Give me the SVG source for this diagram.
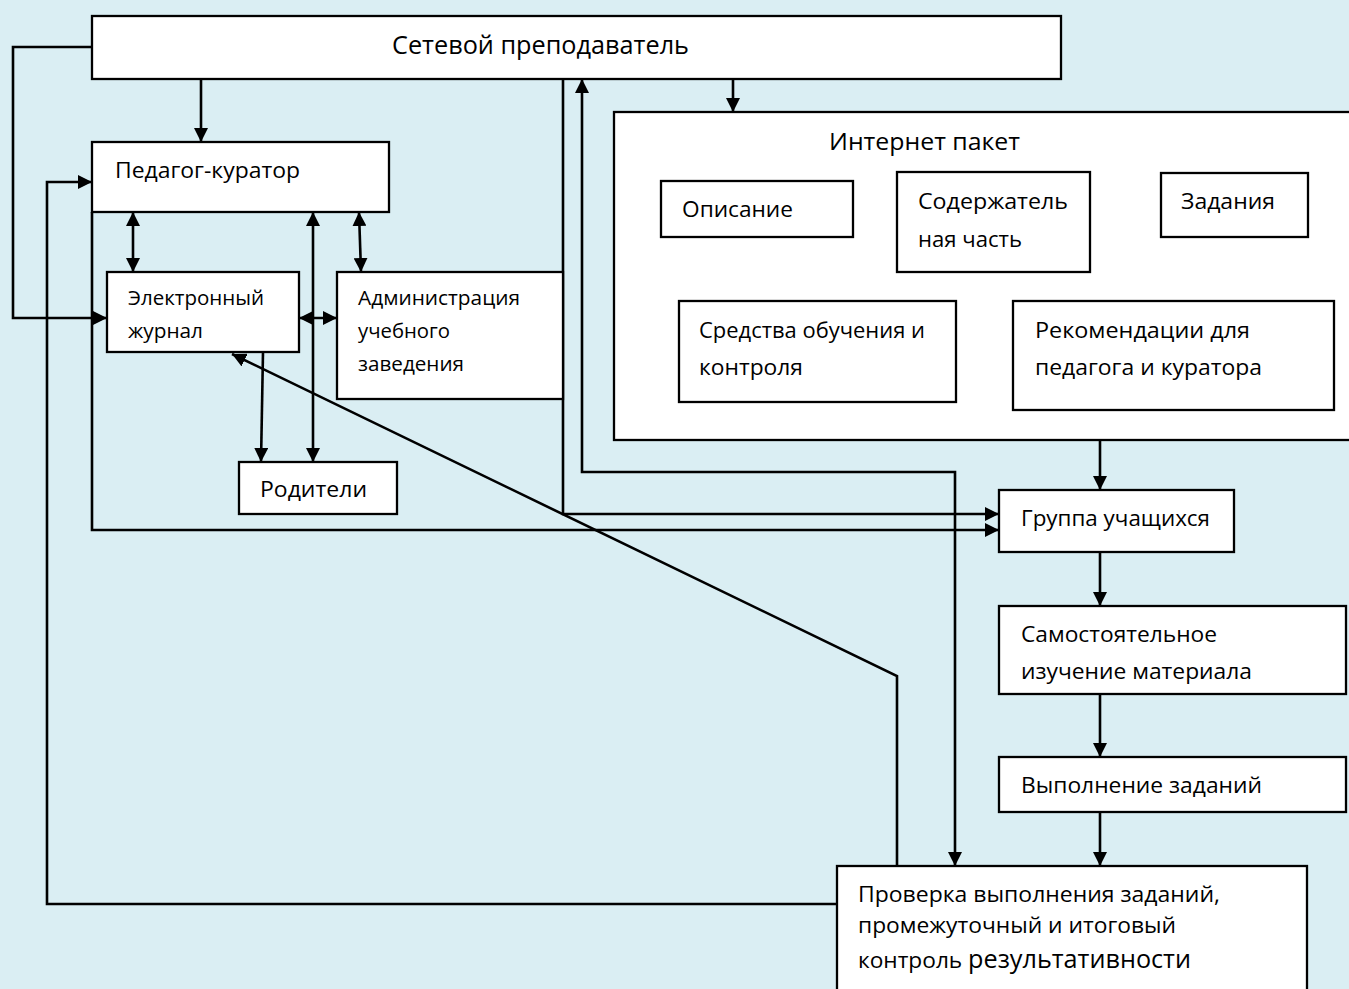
<svg xmlns="http://www.w3.org/2000/svg" width="1349" height="989" viewBox="0 0 1349 989">
<style>
.box{fill:#fff;stroke:#000;stroke-width:2.3}
.t{font-family:"Open Sans","Noto Sans","DejaVu Sans",sans-serif;font-size:22.5px;fill:#000}
.s{font-size:20.5px}
.c{fill:none;stroke:#000;stroke-width:2.6}
</style>
<defs>
<marker id="ah" markerUnits="userSpaceOnUse" markerWidth="15" markerHeight="14" refX="14" refY="7" orient="auto-start-reverse">
<path d="M0,0 L14,7 L0,14 z" fill="#000"/>
</marker>
</defs>
<rect width="1349" height="989" fill="#DAEEF3"/>

<g id="connectors">
<path class="c" d="M201,79 V142" marker-end="url(#ah)"/>
<path class="c" d="M92,47 H13 V318 H107" marker-end="url(#ah)"/>
<path class="c" d="M837,904 H47 V182 H92" marker-end="url(#ah)"/>
<path class="c" d="M92,212 V530 H999" marker-end="url(#ah)"/>
<path class="c" d="M563,79 V514 H999" marker-end="url(#ah)"/>
<path class="c" d="M582,79 V472 H955 V866" marker-start="url(#ah)" marker-end="url(#ah)"/>
<path class="c" d="M733,79 V112" marker-end="url(#ah)"/>
<path class="c" d="M1100,440 V490" marker-end="url(#ah)"/>
<path class="c" d="M1100,552 V606" marker-end="url(#ah)"/>
<path class="c" d="M1100,694 V757" marker-end="url(#ah)"/>
<path class="c" d="M1100,812 V866" marker-end="url(#ah)"/>
<path class="c" d="M897,866 V676 L232,354" marker-end="url(#ah)"/>
<path class="c" d="M133,212 V272" marker-start="url(#ah)" marker-end="url(#ah)"/>
<path class="c" d="M313,212 V462" marker-start="url(#ah)" marker-end="url(#ah)"/>
<path class="c" d="M359,212 L361,272" marker-start="url(#ah)" marker-end="url(#ah)"/>
<path class="c" d="M299,318 H337" marker-start="url(#ah)" marker-end="url(#ah)"/>
<path class="c" d="M263,352 L261,462" marker-end="url(#ah)"/>
</g>

<g id="setevoy">
<rect class="box" x="92" y="16" width="969" height="63"/>
<text class="t" x="392" y="54" style="font-size:25px" textLength="297" lengthAdjust="spacingAndGlyphs">Сетевой преподаватель</text>
</g>
<g id="pedagog">
<rect class="box" x="92" y="142" width="297" height="70"/>
<text class="t" x="115" y="178" textLength="185" lengthAdjust="spacingAndGlyphs">Педагог-куратор</text>
</g>
<g id="zhurnal">
<rect class="box" x="107" y="272" width="192" height="80"/>
<text class="t s" x="128" y="305" textLength="136" lengthAdjust="spacingAndGlyphs">Электронный</text>
<text class="t s" x="128" y="338" textLength="75" lengthAdjust="spacingAndGlyphs">журнал</text>
</g>
<g id="admin">
<rect class="box" x="337" y="272" width="226" height="127"/>
<text class="t s" x="358" y="305" textLength="162" lengthAdjust="spacingAndGlyphs">Администрация</text>
<text class="t s" x="358" y="338" textLength="92" lengthAdjust="spacingAndGlyphs">учебного</text>
<text class="t s" x="358" y="371" textLength="106" lengthAdjust="spacingAndGlyphs">заведения</text>
</g>
<g id="roditeli">
<rect class="box" x="239" y="462" width="158" height="52"/>
<text class="t" x="260" y="497" textLength="107" lengthAdjust="spacingAndGlyphs">Родители</text>
</g>
<g id="internet">
<rect class="box" x="614" y="112" width="760" height="328"/>
<text class="t" x="829" y="150" style="font-size:24px" textLength="191" lengthAdjust="spacingAndGlyphs">Интернет пакет</text>
</g>
<g id="opisanie">
<rect class="box" x="661" y="181" width="192" height="56"/>
<text class="t" x="682" y="217" textLength="111" lengthAdjust="spacingAndGlyphs">Описание</text>
</g>
<g id="soderzh">
<rect class="box" x="897" y="172" width="193" height="100"/>
<text class="t" x="918" y="209" textLength="150" lengthAdjust="spacingAndGlyphs">Содержатель</text>
<text class="t" x="918" y="247" textLength="104" lengthAdjust="spacingAndGlyphs">ная часть</text>
</g>
<g id="zadaniya">
<rect class="box" x="1161" y="173" width="147" height="64"/>
<text class="t" x="1181" y="209" textLength="94" lengthAdjust="spacingAndGlyphs">Задания</text>
</g>
<g id="sredstva">
<rect class="box" x="679" y="301" width="277" height="101"/>
<text class="t" x="699" y="338" textLength="226" lengthAdjust="spacingAndGlyphs">Средства обучения и</text>
<text class="t" x="699" y="375" textLength="104" lengthAdjust="spacingAndGlyphs">контроля</text>
</g>
<g id="rekomend">
<rect class="box" x="1013" y="301" width="321" height="109"/>
<text class="t" x="1035" y="338" textLength="215" lengthAdjust="spacingAndGlyphs">Рекомендации для</text>
<text class="t" x="1035" y="375" textLength="227" lengthAdjust="spacingAndGlyphs">педагога и куратора</text>
</g>
<g id="gruppa">
<rect class="box" x="999" y="490" width="235" height="62"/>
<text class="t" x="1021" y="526" textLength="189" lengthAdjust="spacingAndGlyphs">Группа учащихся</text>
</g>
<g id="samost">
<rect class="box" x="999" y="606" width="347" height="88"/>
<text class="t" x="1021" y="642" textLength="196" lengthAdjust="spacingAndGlyphs">Самостоятельное</text>
<text class="t" x="1021" y="679" textLength="231" lengthAdjust="spacingAndGlyphs">изучение материала</text>
</g>
<g id="vypolnenie">
<rect class="box" x="999" y="757" width="347" height="55"/>
<text class="t" x="1021" y="793" textLength="241" lengthAdjust="spacingAndGlyphs">Выполнение заданий</text>
</g>
<g id="proverka">
<rect class="box" x="837" y="866" width="470" height="140"/>
<text class="t" x="858" y="902" textLength="362" lengthAdjust="spacingAndGlyphs">Проверка выполнения заданий,</text>
<text class="t" x="858" y="933" textLength="318" lengthAdjust="spacingAndGlyphs">промежуточный и итоговый</text>
<text class="t" x="858" y="968" textLength="333" lengthAdjust="spacingAndGlyphs">контроль <tspan style="font-size:25px">результативности</tspan></text>
</g>
</svg>
